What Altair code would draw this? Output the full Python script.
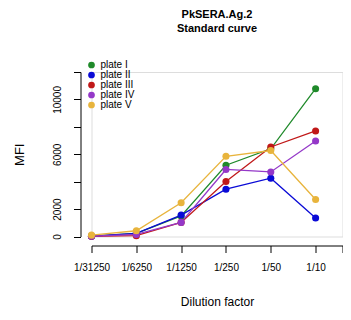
import altair as alt
import pandas as pd

dilutions = ["1/31250", "1/6250", "1/1250", "1/250", "1/50", "1/10"]
positions = [1, 2, 3, 4, 5, 6]
plates = ["plate I", "plate II", "plate III", "plate IV", "plate V"]
colors = ["#1f8a2a", "#0a0ad6", "#c01818", "#9438c8", "#e8b43c"]

mfi_I = [30, 230, 1500, 5200, 6400, 10780]
mfi_II = [20, 230, 1560, 3450, 4250, 1350]
mfi_III = [10, 60, 1030, 4010, 6530, 7700]
mfi_IV = [20, 150, 1030, 4890, 4710, 6970]
mfi_V = [100, 420, 2460, 5850, 6270, 2700]

series = [mfi_I, mfi_II, mfi_III, mfi_IV, mfi_V]
rows = []
for k, (p, vals) in enumerate(zip(plates, series)):
    for pos, lab, v in zip(positions, dilutions, vals):
        rows.append({"plate": p, "order": k, "pos": pos, "dil": lab, "mfi": v})
df = pd.DataFrame(rows)

label_expr = ("datum.value == 1 ? '1/31250' : datum.value == 2 ? '1/6250' : "
              "datum.value == 3 ? '1/1250' : datum.value == 4 ? '1/250' : "
              "datum.value == 5 ? '1/50' : datum.value == 6 ? '1/10' : ''")

x = alt.X("pos:Q",
          scale=alt.Scale(domain=[1, 6.6], nice=False, zero=False),
          axis=alt.Axis(values=[1, 2, 3, 4, 5, 6, 6.6], labelExpr=label_expr,
                        title="Dilution factor", offset=9, grid=False,
                        tickSize=7, labelPadding=10, titlePadding=24,
                        labelFontSize=10, titleFontSize=12, titleFontWeight="normal",
                        labelFlush=False, labelOverlap=False))
y = alt.Y("mfi:Q",
          scale=alt.Scale(domain=[0, 12000], nice=False),
          axis=alt.Axis(values=[0, 2000, 4000, 6000, 8000, 10000, 12000],
                        labelExpr="(datum.value == 0 || datum.value == 2000 || datum.value == 6000 || datum.value == 10000) ? datum.value : ''",
                        title="MFI", offset=11, grid=False, tickSize=7,
                        labelAngle=-90, labelAlign="center", labelBaseline="bottom",
                        labelPadding=11, titlePadding=26, labelFontSize=10,
                        titleFontSize=13, titleFontWeight="normal", labelOverlap=False))
color = alt.Color("plate:N", scale=alt.Scale(domain=plates, range=colors),
                  legend=alt.Legend(title=None, orient="none", legendX=-5, legendY=-12,
                                    symbolType="circle", symbolSize=45,
                                    labelFontSize=10, rowPadding=-2.6, padding=0,
                                    symbolStrokeWidth=0, labelOffset=4))

base = alt.Chart(df).encode(x=x, y=y, color=color, detail="plate:N",
                            order=alt.Order("order:Q"))
lines = base.mark_line(strokeWidth=1.3, clip=False)
points = base.mark_circle(size=50, opacity=1, clip=False)

chart = alt.layer(lines, points).properties(
    width=251, height=164.5,
    padding={"left": 83.5, "top": 64, "right": 0, "bottom": 80},
    autosize=alt.AutoSizeParams(type="none"),
    title=alt.TitleParams(text=["PkSERA.Ag.2", "Standard curve"], fontSize=11,
                          fontWeight="bold", anchor="middle", frame="group",
                          offset=26, lineHeight=14),
).configure_view(stroke=None).configure(font="Liberation Sans").configure_axis(
    domainColor="black", tickColor="black", labelColor="black", titleColor="black"
).configure_legend(labelColor="black")

chart.save("out.html", embed_options={"renderer": "svg", "actions": False})
